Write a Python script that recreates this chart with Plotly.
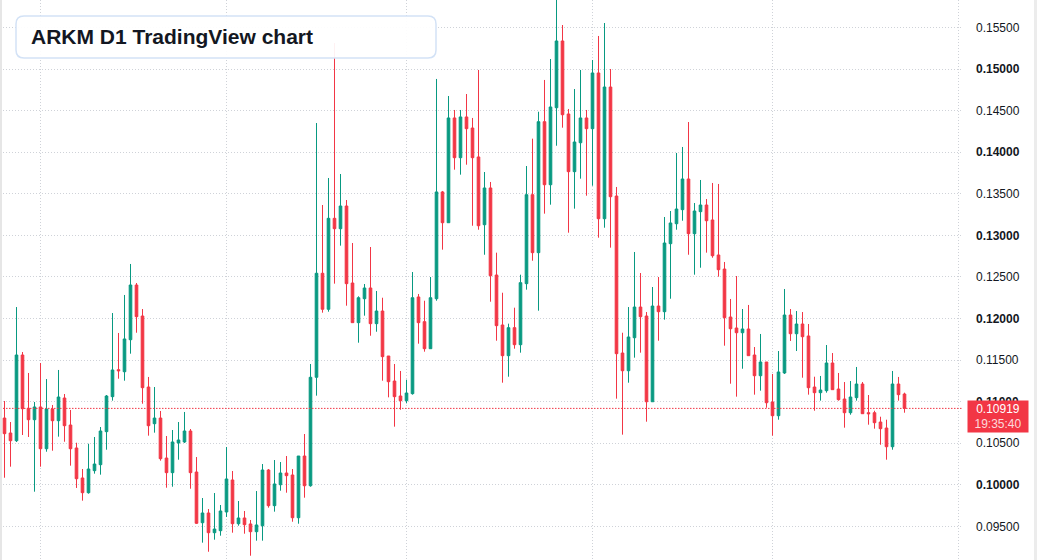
import plotly.graph_objects as go

# ---- data (ARKM daily candles) ----
opens = [0.10803,0.10623,0.10530,0.11561,0.10920,0.10783,0.10936,0.10434,0.10912,0.10771,
         0.11044,0.10719,0.10443,0.10082,0.09905,0.10170,0.10242,0.10639,0.11060,0.11384,
         0.11360,0.11745,0.12403,0.12030,0.11176,0.10735,0.10803,0.10322,0.10146,0.10503,
         0.10515,0.10647,0.10154,0.09544,0.09661,0.09424,0.09448,0.09673,0.10058,0.09532,
         0.09601,0.09529,0.09436,0.09508,0.10178,0.09749,0.10001,0.10142,0.10118,0.09604,
         0.10346,0.09989,0.11293,0.12544,0.12111,0.13205,0.13080,0.13353,0.12427,0.11950,
         0.12238,0.12367,0.11938,0.12090,0.11549,0.11248,0.11068,0.11012,0.11096,0.12259,
         0.11962,0.11637,0.12238,0.13522,0.13152,0.14412,0.13934,0.14424,0.14291,0.13943,
         0.13128,0.13570,0.12523,0.11922,0.11553,0.11890,0.11685,0.12419,0.13489,0.12792,
         0.14367,0.13609,0.14535,0.15338,0.14460,0.13766,0.14114,0.14412,0.14283,0.14953,
         0.13200,0.14784,0.13473,0.11585,0.11372,0.11769,0.12138,0.12030,0.10999,0.12150,
         0.12082,0.12900,0.13140,0.13309,0.13678,0.13020,0.13285,0.13365,0.13185,0.12764,
         0.12595,0.12018,0.11886,0.11829,0.11874,0.11561,0.11312,0.11477,0.10996,0.10831,
         0.11345,0.12042,0.11817,0.11934,0.11790,0.11176,0.11108,0.11132,0.11465,0.11152,
         0.11032,0.10867,0.11048,0.11212,0.10867,0.10867,0.10755,0.10683,0.10458,0.11212,
         0.11092]
highs = [0.11008,0.10755,0.12138,0.11597,0.11345,0.10996,0.11465,0.11272,0.10960,0.11381,
         0.11092,0.10900,0.10506,0.10190,0.10494,0.10575,0.10695,0.11080,0.12066,0.11826,
         0.12283,0.12656,0.12427,0.12114,0.11297,0.11176,0.10888,0.10587,0.10659,0.10755,
         0.10876,0.10671,0.10334,0.09841,0.09709,0.09901,0.09757,0.10455,0.10166,0.09805,
         0.09685,0.09577,0.09925,0.10250,0.10190,0.10298,0.10274,0.10346,0.10190,0.10346,
         0.10611,0.11453,0.14351,0.13365,0.13690,0.15314,0.13738,0.13425,0.12908,0.12267,
         0.12415,0.12860,0.12331,0.12250,0.11549,0.11453,0.11369,0.11264,0.12559,0.12295,
         0.12214,0.12499,0.14881,0.13534,0.14676,0.14508,0.14508,0.14700,0.14412,0.14989,
         0.13762,0.13642,0.12792,0.12310,0.11938,0.12130,0.12527,0.13834,0.14163,0.14487,
         0.14869,0.15121,0.15880,0.15530,0.14520,0.14760,0.14989,0.14508,0.15109,0.15398,
         0.15554,0.15001,0.13582,0.11829,0.12138,0.12800,0.12547,0.12078,0.12379,0.12499,
         0.13221,0.13293,0.13991,0.14063,0.14363,0.13389,0.13666,0.13437,0.13630,0.13618,
         0.12680,0.12235,0.12511,0.12114,0.12163,0.11657,0.11814,0.11477,0.11333,0.11609,
         0.12355,0.12114,0.12090,0.12078,0.11934,0.11300,0.11309,0.11681,0.11585,0.11345,
         0.11236,0.11248,0.11417,0.11236,0.11080,0.10891,0.10819,0.10783,0.11369,0.11297,
         0.11108]
lows = [0.10085,0.10218,0.10515,0.10599,0.10575,0.09917,0.10218,0.10398,0.10410,0.10579,
        0.10518,0.10230,0.09962,0.09809,0.09893,0.10134,0.10122,0.10422,0.11012,0.11276,
        0.11252,0.11577,0.11829,0.10975,0.10591,0.10627,0.10290,0.09965,0.09977,0.10302,
        0.10503,0.09953,0.09529,0.09304,0.09195,0.09340,0.09388,0.09613,0.09424,0.09508,
        0.09412,0.09147,0.09328,0.09328,0.09725,0.09677,0.09929,0.09905,0.09556,0.09532,
        0.09845,0.09977,0.11072,0.12070,0.12082,0.12419,0.12876,0.12154,0.11950,0.11709,
        0.12034,0.11793,0.11841,0.11252,0.11052,0.10699,0.10903,0.10980,0.11084,0.11697,
        0.11601,0.11637,0.12214,0.12828,0.13152,0.13790,0.13730,0.13850,0.13116,0.13068,
        0.12767,0.12202,0.11733,0.11228,0.11300,0.11637,0.11589,0.12347,0.12695,0.12094,
        0.13261,0.13369,0.14078,0.14295,0.13032,0.13321,0.13682,0.13477,0.13597,0.12972,
        0.13092,0.12852,0.11036,0.10603,0.11228,0.11529,0.11589,0.10759,0.10999,0.11733,
        0.11986,0.12238,0.13068,0.13176,0.12767,0.12527,0.12611,0.12792,0.12731,0.12503,
        0.11673,0.11216,0.11060,0.11396,0.11553,0.11084,0.11132,0.10927,0.10591,0.10783,
        0.11333,0.11730,0.11609,0.11288,0.11084,0.10891,0.11012,0.11108,0.11144,0.11012,
        0.10687,0.10843,0.11012,0.10855,0.10723,0.10675,0.10482,0.10302,0.10422,0.11012,
        0.10867]
closes = [0.10615,0.10530,0.11561,0.10915,0.10783,0.10936,0.10434,0.10912,0.10771,0.11056,
          0.10711,0.10434,0.10073,0.09905,0.10190,0.10250,0.10647,0.11068,0.11381,0.11372,
          0.11754,0.12403,0.12022,0.11168,0.10711,0.10803,0.10314,0.10146,0.10515,0.10539,
          0.10647,0.10146,0.09537,0.09661,0.09424,0.09468,0.09685,0.10070,0.09532,0.09601,
          0.09520,0.09436,0.09517,0.10178,0.09749,0.10010,0.10142,0.10110,0.09604,0.10346,
          0.09989,0.11293,0.12544,0.12111,0.13205,0.13080,0.13353,0.12419,0.11950,0.12250,
          0.12367,0.11938,0.12090,0.11541,0.11240,0.11060,0.11012,0.11104,0.12250,0.11950,
          0.11637,0.12250,0.13522,0.13152,0.14412,0.13934,0.14424,0.14283,0.13934,0.13116,
          0.13570,0.12515,0.11914,0.11553,0.11890,0.11685,0.12431,0.13489,0.12792,0.14367,
          0.13609,0.14544,0.15338,0.14451,0.13766,0.14123,0.14412,0.14283,0.14953,0.13200,
          0.14784,0.13465,0.11577,0.11372,0.11778,0.12138,0.12022,0.10999,0.12150,0.12082,
          0.12908,0.13149,0.13317,0.13678,0.13020,0.13293,0.13365,0.13176,0.12755,0.12587,
          0.12010,0.11877,0.11829,0.11874,0.11553,0.11312,0.11477,0.10987,0.10831,0.11357,
          0.12042,0.11817,0.11934,0.11781,0.11168,0.11108,0.11140,0.11465,0.11144,0.11024,
          0.10867,0.11056,0.11212,0.10855,0.10855,0.10747,0.10675,0.10458,0.11212,0.11084,
          0.10919]
bars = list(range(len(closes)))

price_ticks = [0.095, 0.100, 0.105, 0.110, 0.115, 0.120, 0.125, 0.130, 0.135, 0.140, 0.145, 0.150, 0.155]
price_tick_text = ["0.09500", "<b>0.10000</b>", "0.10500", "<b>0.11000</b>", "0.11500", "<b>0.12000</b>",
                   "0.12500", "<b>0.13000</b>", "0.13500", "<b>0.14000</b>", "0.14500", "<b>0.15000</b>", "0.15500"]
month_starts = [6, 37, 67, 98, 128, 159]
last_price = 0.10919
last_time = "19:35:40"
title = "ARKM D1 TradingView chart"

UP = "#089981"
DOWN = "#F23645"
GRID = "#cfd2d8"

fig = go.Figure(go.Candlestick(
    x=bars, open=opens, high=highs, low=lows, close=closes,
    increasing=dict(line=dict(color=UP, width=1), fillcolor=UP),
    decreasing=dict(line=dict(color=DOWN, width=1), fillcolor=DOWN),
    whiskerwidth=0, hoverinfo="skip",
))

W, H = 1037, 560
PLOT_W = 963

fig.update_layout(
    width=W, height=H,
    margin=dict(l=0, r=W - PLOT_W, t=0, b=0, pad=0),
    paper_bgcolor="white", plot_bgcolor="white",
    showlegend=False,
    boxgap=0.38,
    font=dict(family="Liberation Sans, Arial, sans-serif", color="#131722", size=12),
    xaxis=dict(
        range=[-0.75, 159.75], tickvals=month_starts, showticklabels=False,
        showgrid=True, gridcolor=GRID, griddash="1px,2px", gridwidth=1,
        zeroline=False, showline=False, ticks="", rangeslider=dict(visible=False),
        fixedrange=True,
    ),
    yaxis=dict(
        side="right", range=[0.090956, 0.158307],
        tickvals=price_ticks, ticktext=price_tick_text,
        showgrid=True, gridcolor=GRID, griddash="1px,2px", gridwidth=1,
        zeroline=False, showline=False, ticks="", ticklabelstandoff=12,
        tickfont=dict(size=12, color="#131722", family="Liberation Sans, Arial, sans-serif"),
        fixedrange=True,
    ),
    shapes=[
        # last price dotted line
        dict(type="line", xref="paper", x0=0, x1=1, yref="y", y0=last_price, y1=last_price,
             line=dict(color=DOWN, width=1, dash="1.5px,1.5px"), layer="above"),
        # left / right frame strips
        dict(type="rect", xref="paper", x0=0, x1=2 / PLOT_W, yref="paper", y0=0, y1=1,
             fillcolor="#e6e6e6", line=dict(width=0), layer="above"),
        dict(type="rect", xref="paper", x0=1034 / PLOT_W, x1=1037 / PLOT_W, yref="paper", y0=0, y1=1,
             fillcolor="#ececec", line=dict(width=0), layer="above"),
        # title box with rounded corners (pixel offsets from the top-left corner)
        dict(type="path", xref="paper", yref="paper", xsizemode="pixel", ysizemode="pixel",
             xanchor=0, yanchor=1,
             path="M 24,-16 L 428,-16 Q 436,-16 436,-24 L 436,-50 Q 436,-58 428,-58 "
                  "L 24,-58 Q 16,-58 16,-50 L 16,-24 Q 16,-16 24,-16 Z",
             fillcolor="rgba(255,255,255,0.93)", line=dict(color="#d3e2f6", width=1.5),
             layer="above"),
    ],
    annotations=[
        dict(text="<b>" + title + "</b>", xref="paper", yref="paper",
             x=29 / PLOT_W, y=1 - 37 / H, xanchor="left", yanchor="middle",
             showarrow=False, font=dict(size=21, color="#131722",
                                        family="Liberation Sans, Arial, sans-serif")),
        dict(text=f"{last_price:.5f}<br><span style='color:rgba(255,255,255,0.82)'>{last_time}</span>",
             xref="paper", yref="y", x=967 / PLOT_W, y=last_price,
             xanchor="left", yanchor="top", yshift=8.6,
             width=60, height=31, borderpad=0, align="center", valign="middle",
             bgcolor=DOWN, showarrow=False,
             font=dict(size=12, color="white", family="Liberation Sans, Arial, sans-serif")),
    ],
)

fig.write_html("out.html", config=dict(displayModeBar=False, staticPlot=True))
